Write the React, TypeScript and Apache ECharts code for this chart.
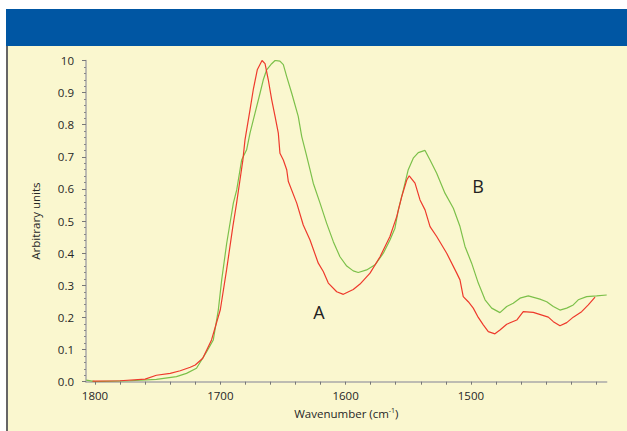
import React, { useEffect, useRef } from "react";
import * as echarts from "echarts";

// Spectrum A (red): [wavenumber cm-1, arbitrary units]
const seriesA: [number, number][] = [
  [1802, 0.002], [1780, 0.003], [1760, 0.008], [1751, 0.02], [1740, 0.026],
  [1732, 0.034], [1724, 0.045], [1720, 0.052], [1714, 0.073], [1707, 0.13],
  [1700, 0.224], [1695, 0.348], [1690, 0.483], [1687, 0.556], [1684.3, 0.628],
  [1682, 0.69], [1680.3, 0.753], [1676.3, 0.846], [1673.7, 0.909], [1670.5, 0.971],
  [1666.7, 1.0], [1664.3, 0.99], [1661.7, 0.94], [1659, 0.878], [1656.3, 0.826],
  [1653.7, 0.774], [1652.4, 0.711], [1649.7, 0.69], [1647, 0.66], [1645.7, 0.623],
  [1639, 0.556], [1633.8, 0.488], [1628.4, 0.441], [1621.8, 0.369], [1617.8, 0.343],
  [1613.8, 0.307], [1607.1, 0.28], [1601.8, 0.272], [1593.9, 0.287], [1588.5, 0.304],
  [1580.5, 0.338], [1572.5, 0.389], [1564.6, 0.452], [1559.2, 0.514], [1555.2, 0.576],
  [1551.2, 0.628], [1549.2, 0.641], [1544.6, 0.618], [1540.6, 0.566], [1536.6, 0.535],
  [1532.6, 0.483], [1527.3, 0.452], [1519.3, 0.4], [1511.3, 0.338], [1508.7, 0.317],
  [1506.1, 0.265], [1502.1, 0.249], [1498.1, 0.229], [1494.1, 0.2], [1490.1, 0.177],
  [1486.1, 0.156], [1480.8, 0.149], [1476.8, 0.161], [1471.4, 0.179], [1463.4, 0.192],
  [1458.2, 0.218], [1450.2, 0.216], [1438.2, 0.201], [1434.2, 0.187], [1428.9, 0.174],
  [1423.5, 0.184], [1418.3, 0.201], [1411.6, 0.218], [1406.3, 0.239], [1400.9, 0.263],
];

// Spectrum B (green)
const seriesB: [number, number][] = [
  [1807, 0.005], [1800, 0.0], [1772, 0.003], [1751, 0.007], [1735, 0.016],
  [1727, 0.026], [1719, 0.042], [1711, 0.093], [1705.6, 0.13], [1701.6, 0.223],
  [1698.9, 0.317], [1694.9, 0.431], [1689.6, 0.556], [1686.9, 0.597], [1683, 0.69],
  [1679, 0.722], [1676.3, 0.774], [1672.3, 0.836], [1668.3, 0.898], [1665.7, 0.94],
  [1663, 0.971], [1659, 0.99], [1656.3, 1.0], [1652.4, 0.998], [1649.7, 0.987],
  [1647, 0.95], [1643, 0.898], [1637.8, 0.826], [1635, 0.763], [1631.6, 0.711],
  [1628.4, 0.66], [1625.8, 0.618], [1620.4, 0.556], [1615.1, 0.493], [1609.8, 0.436],
  [1604.5, 0.389], [1599.1, 0.36], [1593.9, 0.345], [1589.9, 0.34], [1583.2, 0.348],
  [1576.5, 0.364], [1569.9, 0.4], [1564.6, 0.441], [1560.6, 0.478], [1557.9, 0.535],
  [1553.9, 0.597], [1550, 0.66], [1546, 0.696], [1542, 0.713], [1536.6, 0.72],
  [1532.6, 0.69], [1527.3, 0.649], [1520.7, 0.587], [1514, 0.54], [1508.7, 0.483],
  [1504.7, 0.421], [1499.4, 0.369], [1494.1, 0.307], [1488.7, 0.255], [1483.4, 0.229],
  [1476.8, 0.215], [1471.4, 0.234], [1466.2, 0.244], [1460.8, 0.26], [1454.2, 0.267],
  [1444.9, 0.257], [1439.5, 0.249], [1434.2, 0.234], [1428.9, 0.223], [1423.5, 0.229],
  [1418.3, 0.239], [1414.3, 0.255], [1407.6, 0.265], [1399.6, 0.267], [1391.6, 0.27],
];

const xTickValues = [1800, 1780, 1760, 1740, 1720, 1700, 1680, 1660, 1640, 1620, 1600, 1580, 1560, 1540, 1520, 1500, 1480, 1460, 1440, 1420, 1400];
const xLabelValues = [1800, 1700, 1600, 1500];

const FONT = "Open Sans";
const TEXT = "#262626";
const AXIS = "#a9a9a9";

export default function App() {
  const ref = useRef<HTMLDivElement>(null);
  useEffect(() => {
    if (!ref.current) return;
    const chart = echarts.init(ref.current, undefined, { renderer: "svg" });
    chart.setOption({
      animation: false,
      backgroundColor: "transparent",
      grid: { left: 86, right: 20.3, top: 60.5, bottom: 49.3, containLabel: false },
      xAxis: {
        type: "value",
        inverse: true,
        min: 1391.6,
        max: 1807.2,
        name: "{a|Wavenumber (cm}{s|-1}{a|)}",
        nameLocation: "middle",
        nameGap: 24,
        nameTextStyle: {
          rich: {
            a: { fontFamily: FONT, fontSize: 11.5, color: TEXT },
            s: { fontFamily: FONT, fontSize: 7, color: TEXT, verticalAlign: "top", padding: [0, 0, 6, 0] },
          },
        },
        axisLine: { lineStyle: { color: AXIS, width: 1.5 } },
        axisTick: { show: true, length: 3, customValues: xTickValues, lineStyle: { color: "#777" } },
        axisLabel: {
          customValues: xLabelValues,
          fontFamily: FONT,
          fontSize: 11.5,
          color: TEXT,
          margin: 8,
          formatter: (v: number) => String(Math.round(v)),
        },
        splitLine: { show: false },
      },
      yAxis: {
        type: "value",
        min: 0,
        max: 1,
        interval: 0.1,
        name: "Arbitrary units",
        nameLocation: "middle",
        nameGap: 45,
        nameTextStyle: { fontFamily: FONT, fontSize: 11.5, color: TEXT },
        axisLine: { show: true, lineStyle: { color: AXIS, width: 1.5 } },
        axisTick: { show: true, length: 4, lineStyle: { color: "#777" } },
        minorTick: { show: true, splitNumber: 5, length: 2, lineStyle: { color: "#888" } },
        axisLabel: {
          fontFamily: FONT,
          fontSize: 11.5,
          color: TEXT,
          margin: 12,
          formatter: (v: number) => (Math.abs(v - 1) < 1e-9 ? "10" : v.toFixed(1)),
        },
        splitLine: { show: false },
      },
      series: [
        {
          name: "A",
          type: "line",
          data: seriesA,
          showSymbol: false,
          lineStyle: { color: "#EE3A2C", width: 1.2 },
          z: 3,
        },
        {
          name: "B",
          type: "line",
          data: seriesB,
          showSymbol: false,
          lineStyle: { color: "#7CC04A", width: 1.2 },
          z: 2,
        },
      ],
      graphic: [
        { type: "text", x: 319, y: 312, style: { text: "A", fontFamily: FONT, fontSize: 18, fill: "#222", align: "center", verticalAlign: "middle" } },
        { type: "text", x: 478, y: 186, style: { text: "B", fontFamily: FONT, fontSize: 18, fill: "#222", align: "center", verticalAlign: "middle" } },
      ],
    });
    return () => chart.dispose();
  }, []);

  return (
    <div style={{ position: "fixed", left: 0, top: 0, width: 627, height: 431, background: "#ffffff", overflow: "hidden" }}>
      <div style={{ position: "absolute", left: 6, top: 9, width: 621, height: 37, background: "#0056A3" }} />
      <div style={{ position: "absolute", left: 6, top: 46, width: 621, height: 385, background: "#FAF7CF" }} />
      <div style={{ position: "absolute", left: 6, top: 46, width: 2, height: 385, background: "#666666" }} />
      <div ref={ref} style={{ position: "absolute", left: 0, top: 0, width: 627, height: 431 }} />
    </div>
  );
}
